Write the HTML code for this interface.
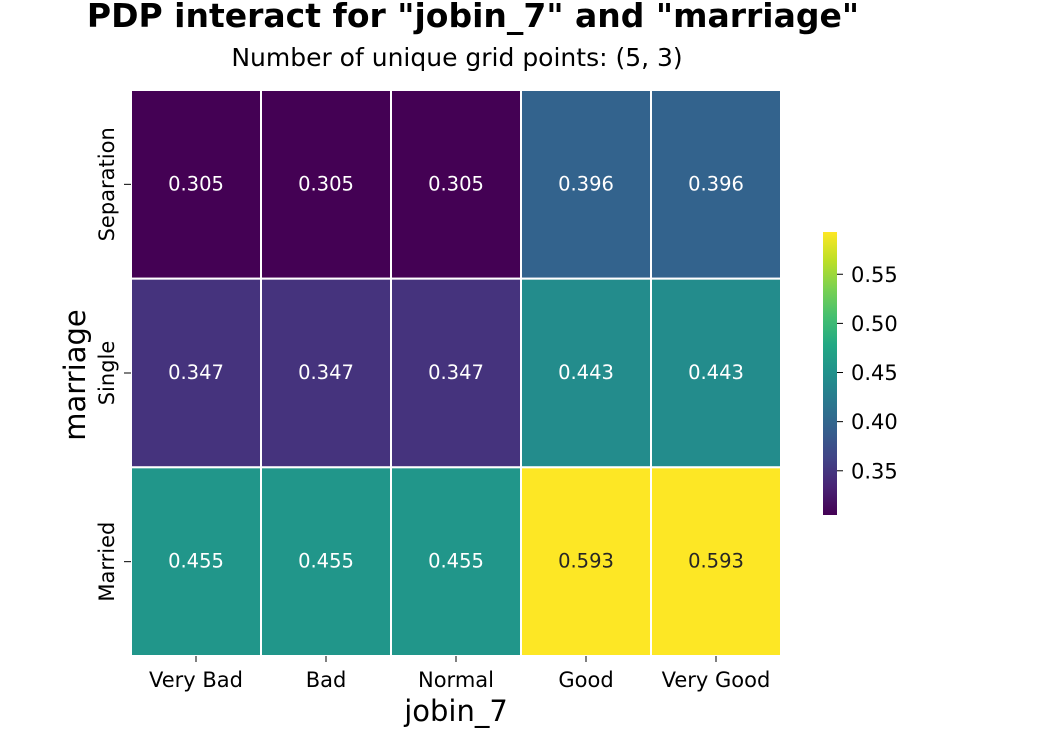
<!DOCTYPE html>
<html><head><meta charset="utf-8"><style>
body{margin:0;background:#fff;font-family:"Liberation Sans","DejaVu Sans",sans-serif}
</style></head><body>
<svg id="c" width="1050" height="750" xmlns="http://www.w3.org/2000/svg" font-family="DejaVu Sans, Liberation Sans, sans-serif">
<defs><linearGradient id="vg" x1="0" y1="1" x2="0" y2="0">
<stop offset="0" stop-color="#440154"/><stop offset="0.1" stop-color="#482475"/><stop offset="0.2" stop-color="#414487"/><stop offset="0.3" stop-color="#355f8d"/><stop offset="0.4" stop-color="#2a788e"/><stop offset="0.5" stop-color="#21918c"/><stop offset="0.6" stop-color="#22a884"/><stop offset="0.7" stop-color="#44bf70"/><stop offset="0.8" stop-color="#7ad151"/><stop offset="0.9" stop-color="#bddf26"/><stop offset="1" stop-color="#fde725"/>
</linearGradient></defs>
<text x="473" y="27" text-anchor="middle" font-size="33" font-weight="bold">PDP interact for "jobin_7" and "marriage"</text>
<text x="457" y="66" text-anchor="middle" font-size="25">Number of unique grid points: (5, 3)</text>
<g id="cells"></g>
<text x="456" y="721" text-anchor="middle" font-size="29">jobin_7</text>
<text transform="translate(85,375) rotate(-90)" text-anchor="middle" font-size="29">marriage</text>
<rect x="823" y="232" width="14" height="283" fill="url(#vg)"/>
<g id="cbt"></g>
</svg>
<script>
const xCats=["Very Bad","Bad","Normal","Good","Very Good"];
const yCats=["Separation","Single","Married"];
const row0=[0.305,0.305,0.305,0.396,0.396];
const row1=[0.347,0.347,0.347,0.443,0.443];
const row2=[0.455,0.455,0.455,0.593,0.593];
const cbTicks=[0.35,0.40,0.45,0.50,0.55];
const rows=[row0,row1,row2];
const NS="http://www.w3.org/2000/svg";
const X0=131,W=650,Y0=90,H=566;
const vmin=0.305,vmax=0.593;
const stops=["#440154","#482475","#414487","#355f8d","#2a788e","#21918c","#22a884","#44bf70","#7ad151","#bddf26","#fde725"];
function hex(h){return [1,3,5].map(i=>parseInt(h.substr(i,2),16));}
function color(v){let t=Math.max(0,Math.min(1,(v-vmin)/(vmax-vmin)))*10;let i=Math.min(9,Math.floor(t)),f=t-i;const a=hex(stops[i]),b=hex(stops[i+1]);return "rgb("+a.map((c,k)=>Math.round(c+(b[k]-c)*f)).join(",")+")";}
const cw=W/xCats.length,ch=H/yCats.length;
const xs=i=>X0+i*cw, ys=j=>Y0+j*ch;
const g=document.getElementById("cells");
function mk(tag,attrs,parent){const e=document.createElementNS(NS,tag);for(const k in attrs)e.setAttribute(k,attrs[k]);parent.appendChild(e);return e;}
rows.forEach((r,j)=>r.forEach((v,i)=>{
 const rc=mk("rect",{x:xs(i),y:ys(j),width:cw,height:ch,fill:color(v),stroke:"#fff","stroke-width":2},g);
 
 
 const t=mk("text",{x:xs(i)+cw/2,y:ys(j)+ch/2+6,"text-anchor":"middle","font-size":19.5,fill:(v-vmin)/(vmax-vmin)>0.7?"#262626":"#fff"},g);
 t.textContent=v.toFixed(3);
 
 
}));
xCats.forEach((c,i)=>{const x=xs(i)+cw/2;
 const l=mk("line",{x1:x,x2:x,y1:H+Y0,y2:H+Y0+6,stroke:"#000"},g);
 
 
 const t=mk("text",{x:x,y:687,"text-anchor":"middle","font-size":21},g);t.textContent=c;
 
 });
yCats.forEach((c,j)=>{const y=ys(j)+ch/2;
 const l=mk("line",{x1:X0-7,x2:X0,y1:y,y2:y,stroke:"#000"},g);
 
 
 const t=mk("text",{transform:`translate(114,${y}) rotate(-90)`,"text-anchor":"middle","font-size":21},g);t.textContent=c;
 
 });
const cb=document.getElementById("cbt");
const cy=v=>515-(v-vmin)/(vmax-vmin)*283;
cbTicks.forEach(v=>{const y=cy(v);
 const l=mk("line",{x1:837,x2:843,y1:y,y2:y,stroke:"#000"},cb);
 
 
 const t=mk("text",{x:851,y:y+7.5,"font-size":21},cb);t.textContent=v.toFixed(2);
 
 });
</script>
</body></html>
